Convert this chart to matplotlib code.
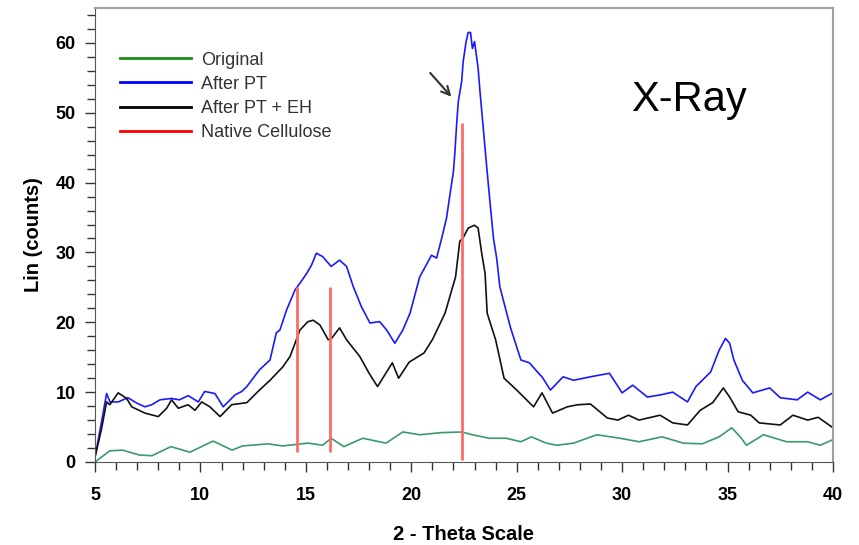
import matplotlib
matplotlib.use("Agg")
import matplotlib.pyplot as plt
from matplotlib.lines import Line2D
from matplotlib.ticker import MultipleLocator

plt.rcParams['font.family'] = ['Liberation Sans', 'DejaVu Sans']

# ---- data ----
pt_x = [5.0, 5.24, 5.55, 5.71, 6.1, 6.56, 7.0, 7.37, 7.69, 8.08, 8.63, 9.0, 9.42, 9.9, 10.2,
        10.69, 11.08, 11.64, 11.96, 12.2, 12.8, 13.3, 13.6, 13.77, 14.09, 14.48, 14.72,
        15.04, 15.27, 15.5, 15.8, 16.2, 16.6, 16.93, 17.25, 17.64, 18.04, 18.5, 18.83,
        19.22, 19.6, 19.94, 20.4, 20.96, 21.2, 21.44, 21.67, 21.83, 22.0, 22.07, 22.15,
        22.23, 22.39, 22.46, 22.6, 22.7, 22.81, 22.9, 23.0, 23.17, 23.26, 23.4, 23.57,
        23.73, 23.9, 24.05, 24.2, 24.7, 25.2, 25.6, 26.1, 26.2, 26.6, 27.2, 27.7, 28.5,
        29.4, 30.0, 30.5, 31.2, 31.8, 32.4, 33.1, 33.5, 34.2, 34.6, 34.9, 35.1, 35.3,
        35.7, 36.2, 37.0, 37.5, 38.3, 38.8, 39.4, 40.0]
pt_y = [0.7, 4.6, 9.8, 8.6, 8.6, 9.2, 8.4, 7.9, 8.2, 8.9, 9.1, 8.9, 9.5, 8.6, 10.1,
        9.8, 7.9, 9.6, 10.1, 10.8, 13.2, 14.6, 18.5, 18.9, 21.8, 24.6, 25.6,
        27.0, 28.2, 29.9, 29.4, 28.0, 28.9, 28.0, 25.1, 22.2, 19.9, 20.1, 18.9,
        17.0, 18.9, 21.3, 26.5, 29.6, 29.2, 32.0, 34.9, 38.2, 41.6, 44.4, 48.3,
        51.6, 54.5, 57.3, 60.2, 61.5, 61.5, 59.2, 60.2, 56.4, 53.0, 48.3, 42.5,
        37.3, 32.0, 29.2, 25.1, 19.3, 14.6, 14.2, 12.5, 12.2, 10.3, 12.2, 11.7, 12.2,
        12.7, 9.9, 11.0, 9.3, 9.6, 10.0, 8.6, 10.8, 12.9, 16.0, 17.7, 17.0, 14.6,
        11.7, 9.9, 10.6, 9.2, 8.9, 10.0, 8.9, 9.9]

eh_x = [5.0, 5.3, 5.55, 5.7, 6.1, 6.5, 6.74, 7.37, 8.0, 8.4, 8.63, 8.95, 9.42, 9.74, 10.06,
        10.45, 10.93, 11.48, 11.96, 12.2, 12.8, 13.3, 13.9, 14.25, 14.72, 15.1, 15.35,
        15.67, 16.06, 16.22, 16.6, 16.93, 17.56, 18.0, 18.4, 19.1, 19.4, 19.9, 20.6,
        21.0, 21.6, 22.1, 22.3, 22.46, 22.7, 23.0, 23.17, 23.33, 23.5, 23.6, 24.0, 24.4,
        25.0, 25.8, 26.2, 26.7, 27.4, 27.9, 28.5, 29.3, 29.8, 30.3, 30.8, 31.8, 32.4,
        33.1, 33.7, 34.3, 34.8, 35.1, 35.5, 36.1, 36.5, 37.5, 38.1, 38.8, 39.3, 40.0]
eh_y = [0.7, 4.6, 8.6, 8.2, 9.9, 9.1, 7.9, 7.0, 6.5, 7.7, 8.9, 7.7, 8.2, 7.4, 8.6,
        7.9, 6.5, 8.2, 8.4, 8.5, 10.3, 11.7, 13.6, 15.1, 18.9, 20.1, 20.3,
        19.6, 17.5, 17.7, 19.2, 17.5, 15.1, 12.7, 10.8, 14.2, 12.0, 14.3, 15.6,
        17.5, 21.3, 26.5, 31.6, 32.1, 33.5, 33.9, 33.5, 30.1, 27.0, 21.3, 17.5, 12.0,
        10.3, 7.9, 9.9, 7.0, 7.9, 8.2, 8.3, 6.3, 6.0, 6.7, 6.0, 6.7, 5.6,
        5.3, 7.4, 8.5, 10.6, 9.3, 7.2, 6.7, 5.6, 5.3, 6.7, 6.0, 6.4, 4.9]

orig_x = [5.0, 5.7, 6.3, 7.1, 7.7, 8.6, 9.5, 10.6, 11.5, 12.0, 13.2, 13.9, 15.1, 15.8, 16.2,
          16.8, 17.7, 18.8, 19.6, 20.4, 21.4, 22.4, 22.9, 23.7, 24.5, 25.2, 25.7, 26.4,
          26.9, 27.7, 28.8, 29.9, 30.8, 31.9, 32.9, 33.8, 34.6, 35.2, 35.6, 35.9, 36.7,
          37.8, 38.8, 39.4, 40.0]
orig_y = [0.0, 1.6, 1.7, 1.0, 0.9, 2.2, 1.4, 3.0, 1.7, 2.3, 2.6, 2.3, 2.7, 2.4, 3.4,
          2.2, 3.4, 2.7, 4.3, 3.9, 4.2, 4.3, 3.9, 3.4, 3.4, 2.9, 3.6, 2.7,
          2.4, 2.7, 3.9, 3.4, 2.9, 3.6, 2.7, 2.6, 3.6, 4.9, 3.6, 2.4, 3.9,
          2.9, 2.9, 2.4, 3.2]

cell_x = [14.6, 16.15, 22.4]
cell_top = [25.1, 25.1, 48.6]
cell_bottom = [1.4, 1.4, 0.3]

legend_labels = ["Original", "After PT", "After PT + EH", "Native Cellulose"]

# ---- figure ----
fig = plt.figure(figsize=(8.59, 5.45), dpi=100)
ax = fig.add_axes([0.1106, 0.1523, 0.9697 - 0.1106, 0.9853 - 0.1523])

ax.plot(orig_x, orig_y, color='#3a9a6a', lw=1.2)
ax.plot(pt_x, pt_y, color='#1a1aff', lw=1.2)
ax.plot(eh_x, eh_y, color='#111111', lw=1.2)
ax.vlines(cell_x, cell_bottom, cell_top, color='#ff6b6b', lw=2)

ax.set_xlim(5, 40)
ax.set_ylim(0, 65)
ax.xaxis.set_major_locator(MultipleLocator(5))
ax.xaxis.set_minor_locator(MultipleLocator(1))
ax.yaxis.set_major_locator(MultipleLocator(10))
ax.yaxis.set_minor_locator(MultipleLocator(2))

ax.tick_params(axis='both', which='both', direction='out', color='#333333', width=1)
ax.tick_params(axis='x', which='major', length=7, pad=11, labelsize=13)
ax.tick_params(axis='x', which='minor', length=6)
ax.tick_params(axis='y', which='major', length=7, pad=7, labelsize=13)
ax.tick_params(axis='y', which='minor', length=6)
for lab in ax.get_xticklabels() + ax.get_yticklabels():
    lab.set_fontweight('bold')

for s in ['left', 'bottom']:
    ax.spines[s].set_color('#555555')
for s in ['top', 'right']:
    ax.spines[s].set_color('#a0a0a0')
    ax.spines[s].set_linewidth(1.5)

ax.set_xlabel('2 - Theta Scale', fontsize=14.5, fontweight='bold', labelpad=15)
ax.set_ylabel('Lin (counts)', fontsize=14.5, fontweight='bold', labelpad=9)

handles = [Line2D([], [], color='#1a8a1a', lw=2),
           Line2D([], [], color='#0000ff', lw=2),
           Line2D([], [], color='#000000', lw=2),
           Line2D([], [], color='#ff0000', lw=2)]
leg = ax.legend(handles, legend_labels, loc='upper left', frameon=False,
                bbox_to_anchor=(0.012, 0.94), fontsize=13, handlelength=3.9,
                handletextpad=0.6, labelspacing=0.4)
for t in leg.get_texts():
    t.set_color('#333333')

ax.text(0.805, 0.797, 'X-Ray', transform=ax.transAxes, fontsize=30, ha='center', va='center')

ax.annotate('', xy=(21.9, 52.3), xytext=(20.9, 55.7),
            arrowprops=dict(arrowstyle='->', color='#333333', lw=1.5,
                            shrinkA=0, shrinkB=0, mutation_scale=15))

fig.savefig('out.png', dpi=100)
